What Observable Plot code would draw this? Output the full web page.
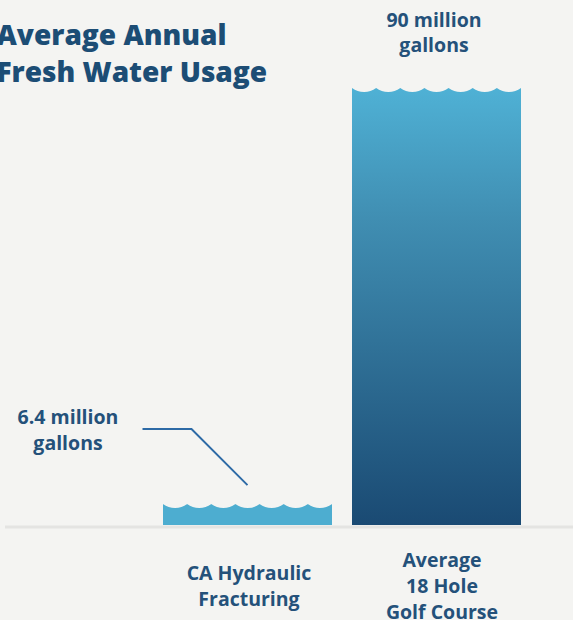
<!DOCTYPE html>
<html><head><meta charset="utf-8">
<script src="https://cdn.jsdelivr.net/npm/d3@7"></script>
<script src="https://cdn.jsdelivr.net/npm/@observablehq/plot@0.6"></script>
<style>
html,body{margin:0;padding:0;background:#f4f4f2;overflow:hidden}
#chart{position:relative;width:573px;height:620px}
</style></head><body><div id="chart"></div>
<script>
// ---- data ----
const categories = ["CA Hydraulic\nFracturing", "Average\n18 Hole\nGolf Course"];
const values = [6.4, 90];
const valueLabels = ["6.4 million\ngallons", "90 million\ngallons"];
const title = "Average Annual\nFresh Water Usage";

const data = categories.map((c, i) => ({category: c, value: values[i], label: valueLabels[i]}));

const NS = "http://www.w3.org/2000/svg";
const BG = "#f4f4f2";
const TEXT = "#24517a";
const FS = 19.5;

// custom mark: gradient defs, wavy tops, leader line (positions from Plot's scales)
function decorations(index, scales) {
  const {x, y} = scales;
  const g = document.createElementNS(NS, "g");
  g.innerHTML = `<defs><linearGradient id="golfGradient" x1="0" y1="0" x2="0" y2="1">
    <stop offset="0" stop-color="#4fb1d5"/><stop offset="0.3" stop-color="#408eb2"/><stop offset="1" stop-color="#1a4a73"/></linearGradient></defs>`;
  const bw = x.bandwidth();
  const n = 7, p = bw / n, depth = 4;
  const r = (p * p / 4 + depth * depth) / (2 * depth);
  let d = "";
  for (const row of data) {
    const x0 = x(row.category), yt = y(row.value);
    for (let k = 0; k < n; k++) {
      const a = x0 + k * p, b = x0 + (k + 1) * p;
      d += `M${a},${yt - 1}L${a},${yt}A${r},${r} 0 0 0 ${b},${yt}L${b},${yt - 1}Z`;
    }
  }
  const waves = document.createElementNS(NS, "path");
  waves.setAttribute("d", d);
  waves.setAttribute("fill", BG);
  g.appendChild(waves);
  // leader line for the small bar
  const s = data[0];
  const cx = x(s.category) + bw / 2, yt = y(s.value);
  const leader = document.createElementNS(NS, "path");
  leader.setAttribute("d", `M${cx - 105},${yt - 75}H${cx - 56}L${cx},${yt - 19}`);
  leader.setAttribute("fill", "none");
  leader.setAttribute("stroke", "#2d6aa6");
  leader.setAttribute("stroke-width", 2);
  g.appendChild(leader);
  return g;
}

const chart = Plot.plot({
  width: 573,
  height: 620,
  marginTop: 88,
  marginBottom: 95,
  marginLeft: 5,
  marginRight: 0,
  style: {background: BG, fontFamily: "'Open Sans', sans-serif", overflow: "visible"},
  x: {domain: categories, paddingInner: 0.10526, paddingOuter: 0.54737, align: 0.7548, axis: null},
  y: {domain: [0, 90], type: "pow", exponent: 1.15, axis: null},
  marks: [
    Plot.ruleY([0], {stroke: "#e4e4e2", strokeWidth: 3, dy: 1.5}),
    Plot.barY(data, {filter: (d, i) => i === 0, x: "category", y: "value", fill: "#4dadd0"}),
    Plot.barY(data, {filter: (d, i) => i === 1, x: "category", y: "value", fill: "url(#golfGradient)"}),
    decorations,
    Plot.text(data, {filter: (d, i) => i === 0, x: "category", y: "value", text: "label", dx: -180, dy: -76.4,
      fontSize: FS, fontWeight: 700, lineHeight: 26 / FS, fill: TEXT}),
    Plot.text(data, {filter: (d, i) => i === 1, x: "category", y: "value", text: "label", dx: -3, dy: -57.5,
      fontSize: FS, fontWeight: 700, lineHeight: 25 / FS, fill: TEXT}),
    Plot.text(data, {filter: (d, i) => i === 0, x: "category", y: 0, text: "category", dx: 1, dy: 59.2,
      fontSize: FS, fontWeight: 700, lineHeight: 26 / FS, fill: TEXT}),
    Plot.text(data, {filter: (d, i) => i === 1, x: "category", y: 0, text: "category", dx: 5, dy: 59.2,
      fontSize: FS, fontWeight: 700, lineHeight: 26 / FS, fill: TEXT}),
    Plot.text([title], {text: d => d, frameAnchor: "top-left", textAnchor: "start", lineAnchor: "top",
      dx: -9, dy: -69.3, fontSize: 28, fontWeight: 800, lineHeight: 37 / 28, fill: "#1c4d75"})
  ]
});
document.getElementById("chart").appendChild(chart);
</script></body></html>
